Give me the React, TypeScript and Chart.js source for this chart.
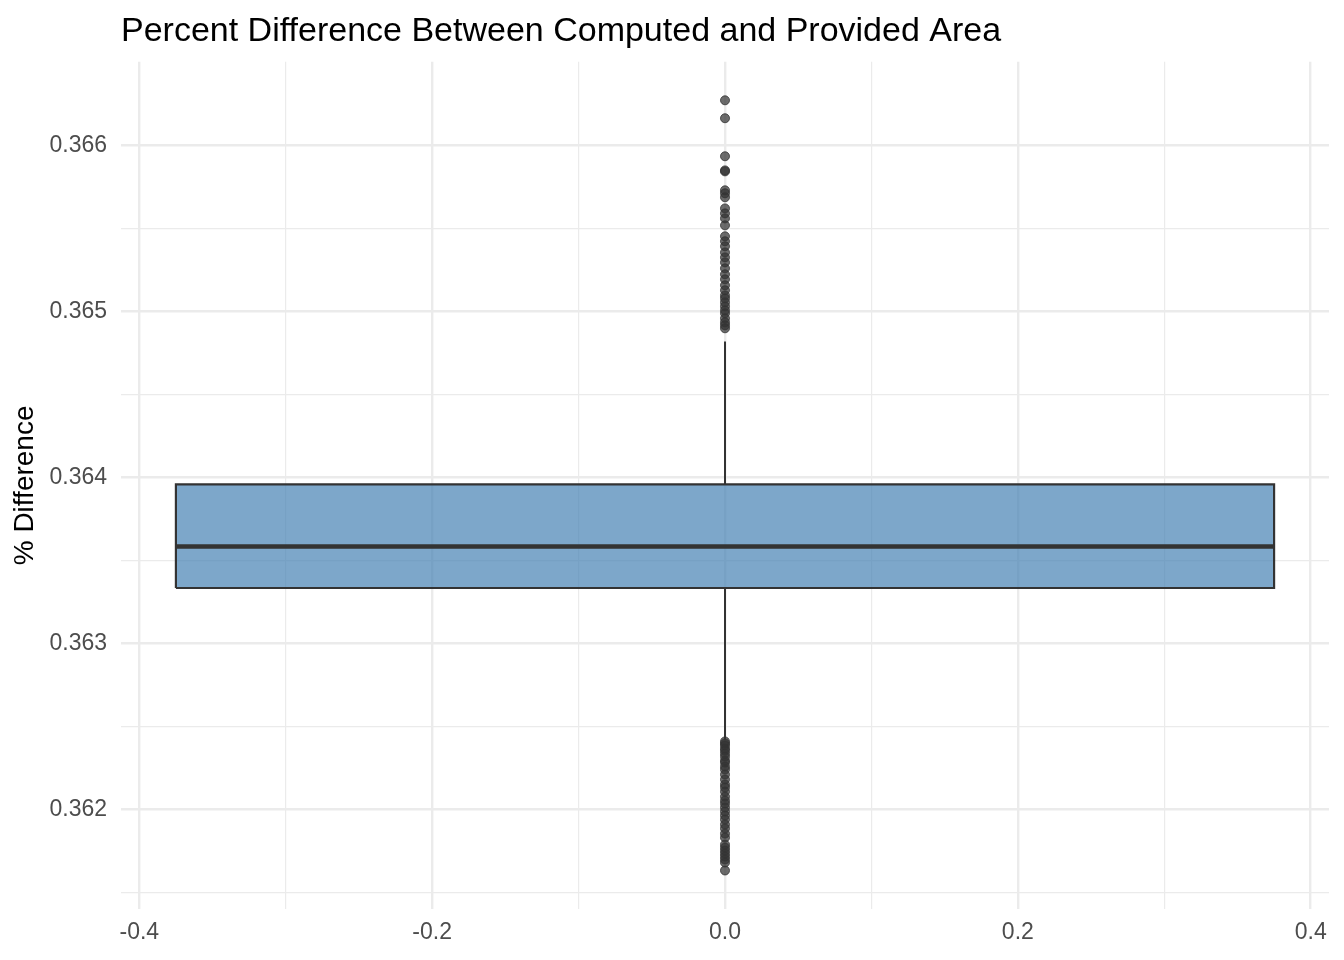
import { useEffect, useRef } from 'react';
import { Chart, registerables } from 'chart.js';

Chart.register(...registerables);

// ---- data ----
const boxQ1 = 0.363334;
const boxMedian = 0.363584;
const boxQ3 = 0.363958;
const whiskerHigh = 0.364819;
const whiskerLow = 0.36242;
const boxHalfWidth = 0.375;

const outliersHigh = [
  0.366271, 0.366163, 0.365934, 0.365849, 0.365843, 0.365729, 0.365711, 0.365687,
  0.36562, 0.36559, 0.36556, 0.365518, 0.365452, 0.365422, 0.365392, 0.365355,
  0.365325, 0.365295, 0.365259, 0.365223, 0.365193, 0.365157, 0.365127, 0.365096,
  0.365078, 0.365054, 0.36503, 0.365006, 0.364988, 0.364958, 0.364934, 0.364916,
  0.364898,
];
const outliersLow = [
  0.36241, 0.362398, 0.362386, 0.362367, 0.362355, 0.362337, 0.362319, 0.362295,
  0.362283, 0.362259, 0.362241, 0.362211, 0.362181, 0.362151, 0.362133, 0.362108,
  0.362078, 0.362054, 0.362036, 0.362012, 0.361988, 0.361964, 0.36194, 0.36191,
  0.361886, 0.361855, 0.361831, 0.361789, 0.361771, 0.361753, 0.361735, 0.361717,
  0.361699, 0.361681, 0.361633,
];

const xMajorTicks = [-0.4, -0.2, 0, 0.2, 0.4];
const xMinorTicks = [-0.3, -0.1, 0.1, 0.3];
const yMajorTicks = [0.362, 0.363, 0.364, 0.365, 0.366];
const yMinorTicks = [0.3615, 0.3625, 0.3635, 0.3645, 0.3655];

const TITLE = 'Percent Difference Between Computed and Provided Area';
const Y_TITLE = '% Difference';

const FONT = '"Liberation Sans", Arial, Helvetica, sans-serif';

export default function App() {
  const ref = useRef<HTMLCanvasElement>(null);

  useEffect(() => {
    const allOut = [...outliersHigh, ...outliersLow];
    const dMin = Math.min(...allOut);
    const dMax = Math.max(...allOut);
    const pad = (dMax - dMin) * 0.05;
    const yMin = dMin - pad;
    const yMax = dMax + pad;
    const xPad = boxHalfWidth * 2 * 0.05;

    const xGrid = [...xMajorTicks, ...xMinorTicks].sort((a, b) => a - b);
    const yGrid = [...yMajorTicks, ...yMinorTicks].sort((a, b) => a - b);

    const lineBase = { pointRadius: 0, pointHoverRadius: 0, tension: 0, fill: false };

    const chart = new Chart(ref.current!, {
      type: 'line',
      data: {
        datasets: [
          {
            ...lineBase,
            data: [
              { x: -boxHalfWidth, y: boxQ3 },
              { x: boxHalfWidth, y: boxQ3 },
            ],
            borderWidth: 0,
            borderColor: 'rgba(0,0,0,0)',
            backgroundColor: 'rgba(70,130,180,0.7)',
            fill: { target: 1 },
            order: 5,
          },
          {
            ...lineBase,
            data: [
              { x: -boxHalfWidth, y: boxQ1 },
              { x: boxHalfWidth, y: boxQ1 },
            ],
            borderWidth: 0,
            borderColor: 'rgba(0,0,0,0)',
            order: 5,
          },
          {
            ...lineBase,
            data: [
              { x: 0, y: boxQ3 },
              { x: 0, y: whiskerHigh },
            ],
            borderColor: '#333333',
            borderWidth: 2,
            order: 6,
          },
          {
            ...lineBase,
            data: [
              { x: 0, y: boxQ1 },
              { x: 0, y: whiskerLow },
            ],
            borderColor: '#333333',
            borderWidth: 2,
            order: 6,
          },
          {
            ...lineBase,
            data: [
              { x: -boxHalfWidth, y: boxQ1 },
              { x: boxHalfWidth, y: boxQ1 },
              { x: boxHalfWidth, y: boxQ3 },
              { x: -boxHalfWidth, y: boxQ3 },
              { x: -boxHalfWidth, y: boxQ1 },
            ],
            borderColor: '#333333',
            borderWidth: 2.2,
            borderJoinStyle: 'miter',
            order: 3,
          },
          {
            ...lineBase,
            data: [
              { x: -boxHalfWidth, y: boxMedian },
              { x: boxHalfWidth, y: boxMedian },
            ],
            borderColor: '#333333',
            borderWidth: 4.7,
            borderCapStyle: 'butt',
            order: 2,
          },
          {
            data: allOut.map((v) => ({ x: 0, y: v })),
            showLine: false,
            pointRadius: 4.5,
            pointHoverRadius: 4.5,
            pointBackgroundColor: 'rgba(51,51,51,0.72)',
            pointBorderColor: 'rgba(51,51,51,0.8)',
            pointBorderWidth: 1,
            order: 1,
          },
        ] as any,
      },
      options: {
        responsive: false,
        animation: false,
        events: [],
        layout: { padding: { left: 0, right: 15, top: 0, bottom: 0 } },
        plugins: {
          legend: { display: false },
          tooltip: { enabled: false },
          title: {
            display: true,
            text: TITLE,
            align: 'start',
            fullSize: false,
            color: '#000000',
            font: { family: FONT, size: 34, weight: 'normal', lineHeight: 1.2 },
            padding: { top: 11, bottom: 10 },
          } as any,
        },
        scales: {
          x: {
            type: 'linear',
            min: -boxHalfWidth - xPad,
            max: boxHalfWidth + xPad,
            afterBuildTicks: (s: any) => {
              s.ticks = xGrid.map((v) => ({ value: v }));
            },
            afterFit: (s: any) => {
              s.height = 51;
            },
            ticks: {
              autoSkip: false,
              maxRotation: 0,
              padding: 10,
              color: '#4D4D4D',
              font: { family: FONT, size: 23 },
              callback: (v: any) => (xMajorTicks.includes(Number(v)) ? Number(v).toFixed(1) : ''),
            },
            grid: {
              color: '#EBEBEB',
              drawTicks: false,
              lineWidth: (ctx: any) => (xMajorTicks.includes(ctx.tick?.value) ? 2.4 : 1.2),
            },
            border: { display: false },
          },
          y: {
            type: 'linear',
            min: yMin,
            max: yMax,
            afterBuildTicks: (s: any) => {
              s.ticks = yGrid.map((v) => ({ value: v }));
            },
            afterFit: (s: any) => {
              s.width = 121;
            },
            ticks: {
              autoSkip: false,
              padding: 14,
              color: '#4D4D4D',
              font: { family: FONT, size: 23 },
              callback: (v: any) => (yMajorTicks.includes(Number(v)) ? Number(v).toFixed(3) : ''),
            },
            grid: {
              color: '#EBEBEB',
              drawTicks: false,
              lineWidth: (ctx: any) => (yMajorTicks.includes(ctx.tick?.value) ? 2.4 : 1.2),
            },
            border: { display: false },
            title: {
              display: true,
              text: Y_TITLE,
              color: '#000000',
              font: { family: FONT, size: 28, lineHeight: 1.2 },
              padding: { top: 8, bottom: 0 },
            },
          },
        },
      },
    });
    return () => chart.destroy();
  }, []);

  return (
    <div style={{ position: 'absolute', left: 0, top: 0, width: 1344, height: 960, background: '#ffffff' }}>
      <canvas ref={ref} width={1344} height={960} style={{ display: 'block', width: 1344, height: 960 }} />
    </div>
  );
}
